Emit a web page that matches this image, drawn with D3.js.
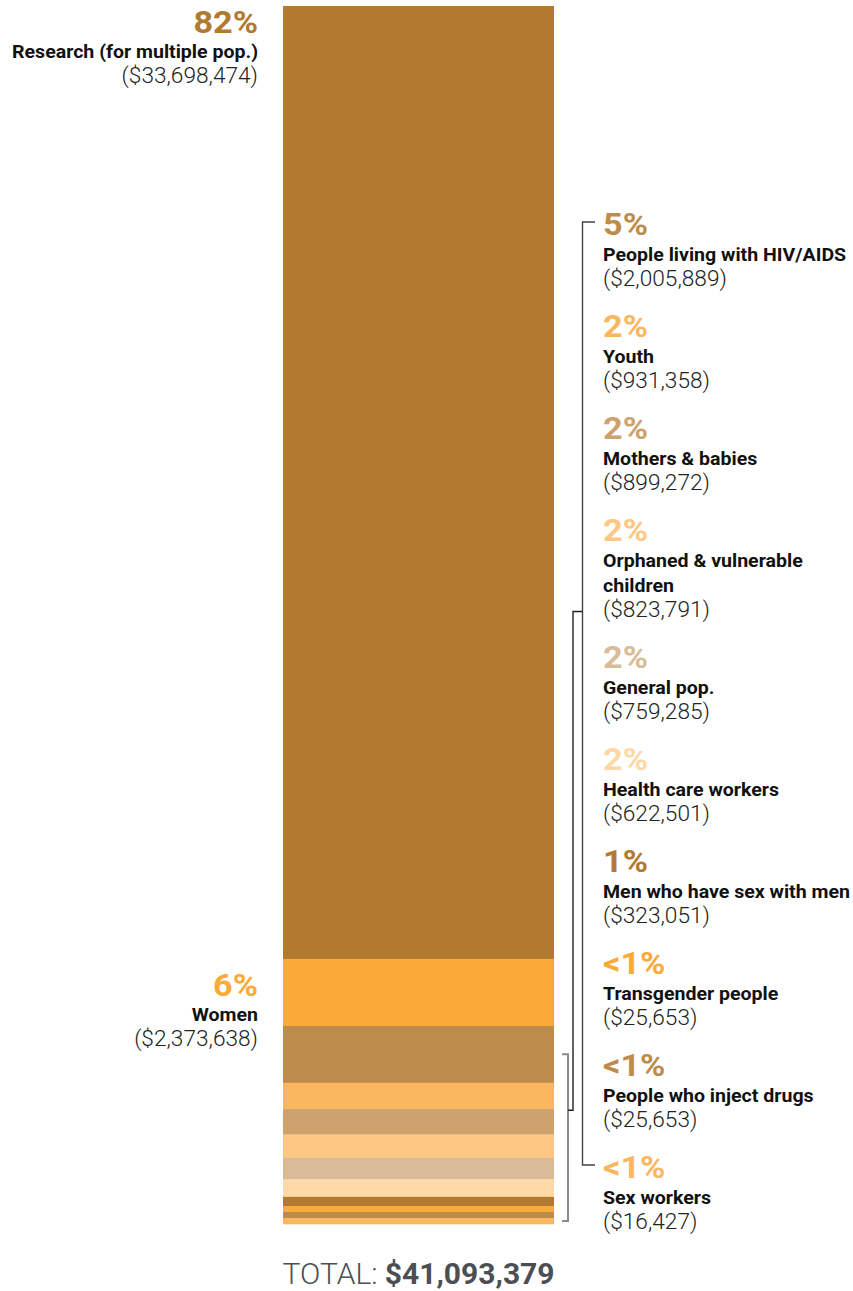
<!DOCTYPE html>
<html><head><meta charset="utf-8">
<script src="https://cdn.jsdelivr.net/npm/d3@7"></script>
<style>
html,body{margin:0;padding:0;background:#fff;}
svg{display:block;}
</style></head>
<body>
<svg id="chart" width="853" height="1291"></svg>
<script>
// ---- data ----
const categories = [
  "Research (for multiple pop.)", "Women", "People living with HIV/AIDS", "Youth",
  "Mothers & babies", "Orphaned & vulnerable children", "General pop.", "Health care workers",
  "Men who have sex with men", "Transgender people", "People who inject drugs", "Sex workers"
];
const nameLines = [
  ["Research (for multiple pop.)"], ["Women"], ["People living with HIV/AIDS"], ["Youth"],
  ["Mothers & babies"], ["Orphaned & vulnerable", "children"], ["General pop."], ["Health care workers"],
  ["Men who have sex with men"], ["Transgender people"], ["People who inject drugs"], ["Sex workers"]
];
const amounts = [33698474, 2373638, 2005889, 931358, 899272, 823791, 759285, 622501, 323051, 25653, 25653, 16427];
const pctLabels = ["82%", "6%", "5%", "2%", "2%", "2%", "2%", "2%", "1%", "<1%", "<1%", "<1%"];
const colors = ["#B17A2F", "#F9AA38", "#BD8C4A", "#FBB660", "#CDA26E", "#FEC784", "#D9BB98", "#FED8A7",
                "#B17A2F", "#F9AA38", "#BD8C4A", "#FBB660"];
const leftSide = [true, true, false, false, false, false, false, false, false, false, false, false];
const total = 41093379;

// ---- layout ----
const svg = d3.select("#chart");
const barX0 = 283, barX1 = 554, barTop = 6;
const minH = 6;
const h = d3.scaleLinear().domain([0, total]).range([0, 1162]);
const fmt = d3.format(",");

let acc = barTop;
const segs = amounts.map((v, i) => {
  const hh = Math.max(h(v), minH);
  const s = {i, v, y0: acc, y1: acc + hh};
  acc += hh;
  return s;
});

svg.append("g").selectAll("rect").data(segs).join("rect")
  .attr("x", barX0).attr("width", barX1 - barX0)
  .attr("y", d => d.y0).attr("height", d => d.y1 - d.y0 + 0.3)
  .attr("fill", d => colors[d.i]);

const FF = "Roboto, 'Noto Sans', sans-serif";
function txt(g, x, y, s, opt) {
  return g.append("text")
    .attr("transform", `translate(${x},${y}) scale(${opt.sx || 1},1)`)
    .attr("text-anchor", opt.anchor || "start")
    .style("font-family", FF)
    .style("font-size", opt.size + "px")
    .style("font-weight", opt.weight)
    .attr("fill", opt.fill)
    .text(s);
}
const pctStyle = {size: 32, weight: 700, sx: 1.07};
const nameStyle = {size: 19, weight: 700, sx: 1.03, fill: "#111"};
const amtStyle = {size: 22, weight: 300, sx: 1.03, fill: "#222"};

// left labels
const gl = svg.append("g");
segs.filter(s => leftSide[s.i]).forEach(s => {
  const tall = (s.y1 - s.y0) > 200;
  const base = tall ? s.y0 + 27 : (s.y0 + s.y1) / 2 + 4;
  const xr = 258;
  txt(gl, xr, base, pctLabels[s.i], {...pctStyle, anchor: "end", fill: colors[s.i]});
  let y = base + 25;
  nameLines[s.i].forEach(l => { txt(gl, xr, y, l, {...nameStyle, anchor: "end"}); y += 25; });
  txt(gl, xr, y, `($${fmt(amounts[s.i])})`, {...amtStyle, anchor: "end"});
});

// right labels
const gr = svg.append("g");
const rx = 603;
let base = 235;
const tickYs = [];
segs.filter(s => !leftSide[s.i]).forEach(s => {
  txt(gr, rx, base, pctLabels[s.i], {...pctStyle, fill: colors[s.i]});
  tickYs.push(base - 13);
  let y = base + 26;
  nameLines[s.i].forEach(l => { txt(gr, rx, y, l, nameStyle); y += 25; });
  txt(gr, rx, y, `($${fmt(amounts[s.i])})`, amtStyle);
  base = y + 51;
});

// brackets
const gb = svg.append("g").attr("fill", "none");
const bTop = tickYs[0], bBot = tickYs[tickYs.length - 1];
gb.append("path").attr("stroke", "#444").attr("stroke-width", 1.4)
  .attr("d", `M595,${bTop}H582.5V${bBot}H595`);

const small = segs.filter(s => !leftSide[s.i]);
const gTop = (small[0].y0 + small[0].y1) / 2;
const gBot = (small[small.length - 1].y0 + small[small.length - 1].y1) / 2;
gb.append("path").attr("stroke", "#8a8a8a").attr("stroke-width", 2)
  .attr("d", `M562,${gTop}H568V${gBot}H562`);

const joinOuter = bTop + (bBot - bTop) * 0.413;
const joinInner = gTop + (gBot - gTop) * 0.335;
gb.append("path").attr("stroke", "#222").attr("stroke-width", 1.4)
  .attr("d", `M582.5,${joinOuter}H573V${joinInner}H568`);

// total
const tt = svg.append("text")
  .attr("x", (barX0 + barX1) / 2).attr("y", 1284)
  .attr("text-anchor", "middle")
  .style("font-family", FF).style("font-size", "30px")
  .attr("fill", "#4b4f54");
tt.append("tspan").style("font-weight", 300).text("TOTAL: ");
tt.append("tspan").style("font-weight", 700).text(`$${fmt(total)}`);
</script>
</body></html>
